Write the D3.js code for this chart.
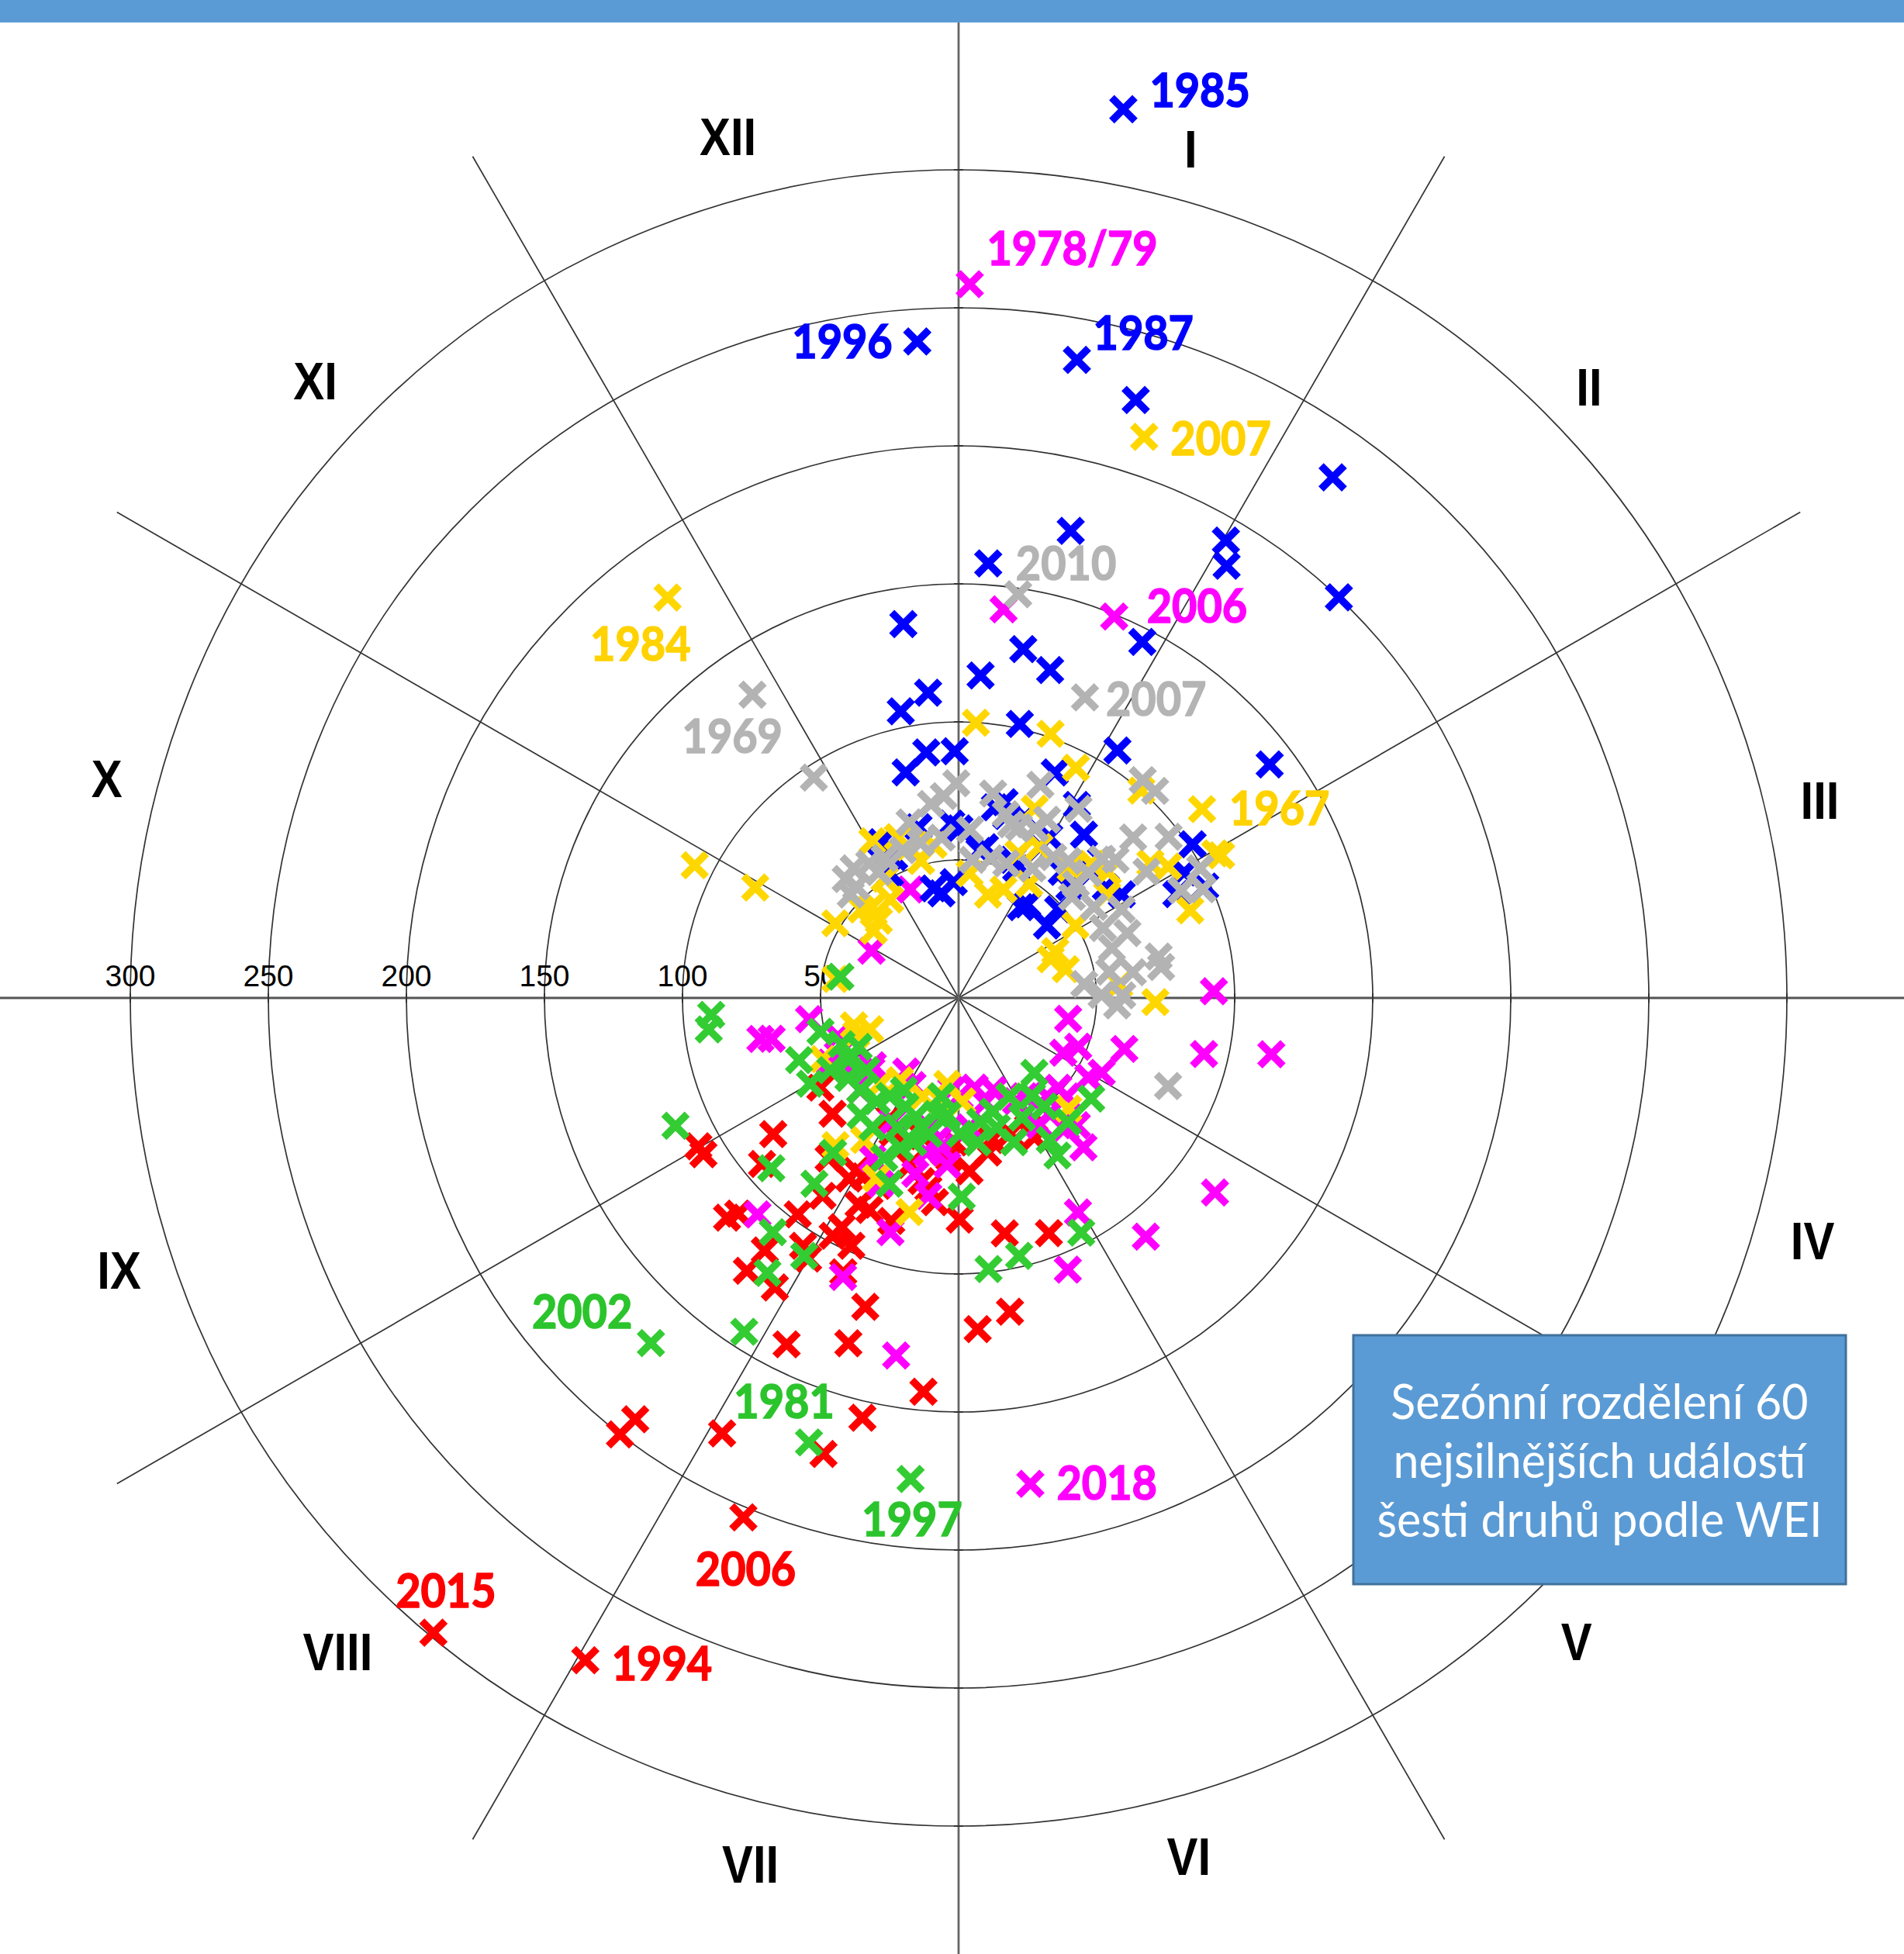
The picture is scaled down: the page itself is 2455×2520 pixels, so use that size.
<!DOCTYPE html>
<html><head><meta charset="utf-8">
<script src="https://cdn.jsdelivr.net/npm/d3@7"></script>
<style>html,body{margin:0;padding:0;background:#fff;} svg{display:block;}</style>
</head><body>
<svg id="chart" width="2455" height="2520"></svg>
<script>
// ---------------- DATA ----------------
// month position (0 = 1 January, 12 = 31 December) and WEI value
const monthLabels = ["I","II","III","IV","V","VI","VII","VIII","IX","X","XI","XII"];
const ringValues = [50, 100, 150, 200, 250, 300];

const blueEvents = [
[0.35,327.4],[11.88,238.3],[0.35,235.1],[0.55,225.9],[1.19,232.2],[0.45,174.0],[1.01,191.9],[1.06,184.2],[1.45,200.1],[0.13,157.8],
[11.72,136.9],[0.91,145.1],[0.35,128.5],[0.52,123.3],[0.13,117.1],[11.81,111.1],[11.62,105.9],[0.42,101.7],[1.77,140.9],[1.09,106.5],
[11.75,89.7],[11.97,89.4],[11.56,83.9],[0.36,70.3],[0.44,72.8],[11.56,63.5],[11.92,63.2],[0.27,53.8],[0.80,51.3],[11.69,38.4],
[11.92,42.0],[11.04,51.5],[11.12,63.0],[1.15,39.9],[0.77,88.8],[1.05,82.0],[1.25,74.6],[0.98,66.9],[0.67,69.7],[1.89,101.4],
[2.15,87.4],[1.92,70.0],[1.69,41.4],[1.21,42.0],[1.61,48.3],[2.19,98.0],[11.03,59.4],[11.18,56.1],[11.57,40.7],[0.01,61.4],
[0.33,55.4],[0.49,68.1],[0.71,53.7],[0.95,62.2],[1.31,59.0],[1.50,56.8],[1.55,66.1],[1.53,71.8],[1.77,66.7],[2.03,93.5]];

const magentaEvents = [
[0.03,258.6],[0.22,141.7],[0.74,149.2],[2.95,92.5],[3.34,115.1],[3.43,91.2],[4.24,116.6],[4.73,109.9],[5.27,106.1],[5.03,88.9],
[5.72,177.9],[6.33,131.5],[6.75,109.4],[6.54,88.4],[7.43,107.0],[8.59,69.3],[8.61,73.3],[8.73,54.7],[9.95,35.9],[11.20,43.0],
[8.11,52.1],[8.41,45.9],[7.68,41.0],[6.93,35.7],[6.15,33.5],[5.66,33.0],[5.31,35.7],[5.03,42.8],[6.22,54.5],[6.39,57.2],
[6.46,65.6],[3.36,40.4],[3.92,42.8],[3.74,46.8],[3.57,62.8],[3.92,58.5],[4.05,55.1],[4.40,48.6],[4.57,62.9],[4.73,53.3],
[4.67,70.5],[7.73,39.5],[7.18,32.7],[6.42,48.1],[6.28,52.0],[5.98,35.7],[5.53,39.1],[4.87,42.9],[4.60,47.9],[4.41,53.0],
[6.13,60.6],[6.76,73.0],[6.29,72.6],[7.56,48.8],[7.86,47.4],[6.94,50.7],[6.94,66.0],[4.68,60.9],[4.92,54.6],[5.84,47.1]];

const yellowEvents = [
[0.61,214.1],[10.80,179.3],[9.89,107.0],[9.95,83.8],[1.74,111.6],[2.05,108.2],[2.02,106.7],[2.31,89.7],[3.04,71.3],[0.64,101.3],
[0.90,93.6],[1.38,100.1],[0.12,99.9],[6.43,79.6],[8.51,39.2],[9.29,45.2],[7.12,61.8],[7.33,69.5],[6.82,71.9],[7.18,36.6],
[6.37,37.3],[5.93,37.5],[2.50,40.2],[2.84,58.4],[4.51,56.5],[11.31,62.3],[11.49,51.4],[10.94,50.8],[10.04,52.2],[10.54,45.6],
[10.47,40.2],[10.28,39.2],[10.41,47.6],[10.84,43.4],[0.53,38.9],[0.75,42.5],[0.17,45.3],[11.69,56.2],[0.75,56.6],[1.83,84.9],
[0.73,73.9],[0.94,62.0],[1.36,62.1],[1.49,68.4],[2.14,38.9],[1.94,49.8],[1.06,48.6],[1.66,70.8],[1.84,65.5],[1.93,89.6],
[11.04,64.8],[11.39,57.5],[8.35,39.3],[8.35,34.0],[7.41,42.2],[6.25,31.4],[6.67,38.0],[5.09,40.2],[8.19,53.9],[2.24,36.2]];

const greyEvents = [
[0.28,147.8],[0.76,118.1],[10.86,132.8],[10.89,95.5],[3.76,82.3],[1.34,103.3],[1.45,103.4],[1.08,81.1],[0.88,72.1],[1.58,85.9],
[1.75,95.9],[2.06,99.3],[2.20,96.8],[1.53,72.4],[1.54,65.3],[1.53,59.2],[1.87,59.1],[0.99,54.0],[2.30,65.5],[2.40,58.4],
[2.61,74.0],[1.29,63.6],[2.67,55.4],[2.72,63.8],[2.71,74.2],[2.96,51.8],[3.09,57.5],[2.97,59.3],[11.98,77.8],[11.86,73.3],
[11.73,71.0],[0.32,75.1],[0.48,68.7],[0.56,65.7],[0.13,61.1],[11.80,58.4],[11.54,57.9],[11.31,57.2],[11.07,57.3],[10.88,58.5],
[10.70,60.4],[10.58,54.8],[10.46,54.1],[10.55,59.4],[0.43,51.9],[0.65,51.7],[0.65,65.6],[0.81,67.3],[1.13,61.5],[1.61,55.0],
[2.14,58.1],[2.05,67.2],[1.62,75.8],[1.87,82.0],[2.14,89.6],[0.19,50.3],[11.48,66.0],[10.92,54.0],[0.70,82.7],[2.79,45.8]];

const greenEvents = [
[7.39,167.5],[6.62,169.9],[6.19,175.1],[8.19,112.5],[7.09,143.7],[8.87,89.8],[8.76,91.2],[7.59,91.7],[7.28,108.3],[7.03,108.9],
[7.16,121.3],[5.79,98.8],[5.56,96.0],[5.08,95.9],[9.34,43.5],[8.54,51.5],[8.29,62.0],[8.02,53.3],[8.02,45.8],[8.13,40.3],
[7.73,42.4],[7.80,49.3],[7.28,47.7],[7.17,43.4],[6.87,43.8],[6.66,45.7],[6.55,48.7],[6.36,42.8],[6.58,54.9],[6.71,58.2],
[6.83,63.9],[6.68,71.8],[5.67,45.5],[5.44,43.0],[5.75,52.8],[5.30,56.0],[5.97,72.0],[7.30,72.2],[7.26,85.2],[4.49,38.6],
[4.77,44.3],[4.24,60.3],[4.62,59.9],[4.93,67.4],[8.00,62.1],[7.56,48.8],[7.12,56.3],[6.84,51.9],[6.41,50.4],[6.18,42.6],
[5.98,49.2],[5.45,49.0],[5.07,49.1],[4.72,50.1],[4.91,61.1],[5.09,40.2],[7.33,55.4],[8.28,45.6],[7.02,38.9],[6.33,36.2]];

const redEvents = [
[7.32,298.4],[6.98,275.4],[6.75,203.7],[7.26,200.1],[7.25,192.4],[6.95,179.5],[6.55,172.3],[6.43,156.0],[6.17,143.2],[6.88,140.1],
[6.59,131.3],[6.56,116.9],[5.89,120.2],[5.69,115.2],[5.99,80.3],[5.63,86.9],[5.30,91.3],[8.01,108.5],[7.95,108.4],[7.79,83.3],
[7.66,93.2],[7.55,115.6],[7.52,111.7],[7.26,125.1],[7.25,115.3],[7.08,124.2],[7.07,106.0],[7.00,109.0],[6.93,97.5],[6.90,93.2],
[6.76,107.8],[7.90,59.7],[7.58,62.0],[7.02,72.8],[6.93,73.1],[7.04,76.5],[6.87,54.3],[6.30,69.9],[6.77,74.0],[6.86,83.2],
[6.76,83.3],[6.38,67.7],[6.11,58.1],[5.64,57.0],[6.05,52.4],[6.99,50.3],[5.05,57.5],[6.49,51.8],[5.31,52.6],[5.06,53.3],
[6.54,63.0],[7.30,74.8],[5.88,62.9],[5.57,52.8],[6.22,74.5],[6.56,84.4],[7.15,87.0],[7.22,97.7],[6.78,97.8],[6.18,56.2]];

const seriesOrder = ["red", "magenta", "blue", "yellow", "grey", "green"];
const seriesData = {red: redEvents, magenta: magentaEvents, blue: blueEvents,
                    yellow: yellowEvents, grey: greyEvents, green: greenEvents};

const yearLabels = [
  {series: "blue", index: 0, text: "1985"},
  {series: "blue", index: 1, text: "1996"},
  {series: "blue", index: 2, text: "1987"},
  {series: "magenta", index: 0, text: "1978/79"},
  {series: "yellow", index: 0, text: "2007"},
  {series: "grey", index: 0, text: "2010"},
  {series: "magenta", index: 2, text: "2006"},
  {series: "grey", index: 1, text: "2007"},
  {series: "yellow", index: 1, text: "1984"},
  {series: "grey", index: 2, text: "1969"},
  {series: "yellow", index: 4, text: "1967"},
  {series: "green", index: 0, text: "2002"},
  {series: "green", index: 1, text: "1981"},
  {series: "green", index: 2, text: "1997"},
  {series: "magenta", index: 10, text: "2018"},
  {series: "red", index: 2, text: "2006"},
  {series: "red", index: 0, text: "2015"},
  {series: "red", index: 1, text: "1994"}
];
const legendLines = ["Sezónní rozdělení 60", "nejsilnějších událostí", "šesti druhů podle WEI"];

// ---------------- LAYOUT / STYLE ----------------
const W = 2455, H = 2520, cx = 1236, cy = 1287;
const markColors = {red: "#ff0000", magenta: "#ff00ff", blue: "#0000ff",
                    yellow: "#ffd700", grey: "#b3b3b3", green: "#33cc33"};
const labelColors = {red: "#ff0000", magenta: "#ff00ff", blue: "#0000ff",
                    yellow: "#ffd200", grey: "#b4b4b4", green: "#2cc42c"};
// month label placement (angular position in months, radius in WEI units)
const monthLabelPlace = [[0.51,318.6],[1.53,318],[2.57,320],[3.53,321.6],[4.54,323.3],[5.5,322.2],
                         [6.45,323],[7.45,326.7],[8.40,319.7],[9.48,318.5],[10.46,322.8],[11.5,322.8]];
// label offsets from their mark: [dx, dy, anchor]
const labelOffsets = [
  [34,-27,"start"],[-32,-2,"end"],[21,-37,"start"],[22,-48,"start"],[34,0,"start"],
  [-3,-42,"start"],[42,-16,"start"],[27,0,"start"],[-35,58,"middle"],[-26,51,"middle"],
  [35,-3,"start"],[-24,-43,"end"],[-32,-55,"middle"],[2,50,"middle"],[34,-3,"start"],
  [3,64,"middle"],[16,-56,"middle"],[34,2,"start"]
];

const svg = d3.select("#chart");
const rScale = d3.scaleLinear().domain([0, 300]).range([0, 1068]);
const aScale = d3.scaleLinear().domain([0, 12]).range([0, 2 * Math.PI]);
const px = (m, v) => cx + rScale(v) * Math.sin(aScale(m));
const py = (m, v) => cy - rScale(v) * Math.cos(aScale(m));

svg.append("rect").attr("width", W).attr("height", H).attr("fill", "#fff");
svg.append("rect").attr("x", 0).attr("y", 0).attr("width", W).attr("height", 29).attr("fill", "#5b9bd5");

const grid = svg.append("g");
// rings
grid.selectAll("circle").data(ringValues).join("circle")
  .attr("cx", cx).attr("cy", cy).attr("r", d => rScale(d))
  .attr("fill", "none").attr("stroke", "#333").attr("stroke-width", 1.7);
// diagonal spokes
const spokes = d3.range(12).filter(k => k % 3 !== 0);
grid.selectAll("line.spoke").data(spokes).join("line").attr("class", "spoke")
  .attr("x1", cx).attr("y1", cy)
  .attr("x2", k => px(k, 352)).attr("y2", k => py(k, 352))
  .attr("stroke", "#333").attr("stroke-width", 1.7);
// main axes
grid.append("line").attr("x1", 0).attr("x2", W).attr("y1", cy).attr("y2", cy)
  .attr("stroke", "#555").attr("stroke-width", 2.8);
grid.append("line").attr("x1", cx).attr("x2", cx).attr("y1", 29).attr("y2", H)
  .attr("stroke", "#666").attr("stroke-width", 2.8);
// small ticks where rings cross the axes
ringValues.forEach(v => {
  [-1, 1].forEach(s => {
    grid.append("line").attr("x1", cx + s * rScale(v)).attr("x2", cx + s * rScale(v))
      .attr("y1", cy - 6).attr("y2", cy + 6).attr("stroke", "#333").attr("stroke-width", 2);
    grid.append("line").attr("y1", cy + s * rScale(v)).attr("y2", cy + s * rScale(v))
      .attr("x1", cx - 6).attr("x2", cx + 6).attr("stroke", "#333").attr("stroke-width", 2);
  });
});
// ring value labels
grid.selectAll("text.tick").data(ringValues).join("text").attr("class", "tick")
  .attr("x", d => cx - rScale(d)).attr("y", cy - 15)
  .attr("text-anchor", "middle")
  .attr("font-family", "'Liberation Sans', Arial, sans-serif").attr("font-size", 39)
  .attr("fill", "#000").text(d => d);
// month labels
svg.append("g").selectAll("g").data(monthLabels).join("g")
  .attr("transform", (d, i) => {
    const p = monthLabelPlace[i];
    return `translate(${px(p[0], p[1])},${py(p[0], p[1])}) scale(0.88,1)`;
  })
  .append("text").attr("text-anchor", "middle").attr("dominant-baseline", "central")
  .attr("font-family", "'Liberation Sans', Arial, sans-serif").attr("font-weight", "bold")
  .attr("font-size", 68).attr("fill", "#000").text(d => d);

// marks
const arm = 15;
const crossPath = `M${-arm},${-arm}L${arm},${arm}M${-arm},${arm}L${arm},${-arm}`;
seriesOrder.forEach(name => {
  svg.append("g").selectAll("path").data(seriesData[name]).join("path")
    .attr("d", crossPath)
    .attr("transform", d => `translate(${px(d[0], d[1])},${py(d[0], d[1])})`)
    .attr("fill", "none").attr("stroke", markColors[name]).attr("stroke-width", 9.5);
});

// year labels
const lab = svg.append("g");
yearLabels.forEach((L, i) => {
  const d = seriesData[L.series][L.index];
  const o = labelOffsets[i];
  lab.append("g").attr("transform", `translate(${px(d[0], d[1]) + o[0]},${py(d[0], d[1]) + o[1]}) scale(0.9,1)`)
    .append("text").attr("text-anchor", o[2]).attr("dominant-baseline", "central")
    .attr("font-family", "Lato, 'Open Sans', sans-serif").attr("font-weight", 700)
    .attr("font-size", 62).attr("fill", labelColors[L.series])
    .attr("stroke", labelColors[L.series]).attr("stroke-width", 1.6).text(L.text);
});

// legend box
const bx = 1745, by = 1722, bw = 635, bh = 321;
svg.append("rect").attr("x", bx).attr("y", by).attr("width", bw).attr("height", bh)
  .attr("fill", "#5b9bd5").attr("stroke", "#41719c").attr("stroke-width", 3);
svg.append("g").selectAll("g").data(legendLines).join("g")
  .attr("transform", (d, i) => `translate(${bx + bw / 2},${1807 + i * 76}) scale(0.97,1)`)
  .append("text").attr("text-anchor", "middle").attr("dominant-baseline", "central")
  .attr("font-family", "Lato, 'Open Sans', sans-serif").attr("font-size", 61)
  .attr("fill", "#fff").text(d => d);
</script>
</body></html>
